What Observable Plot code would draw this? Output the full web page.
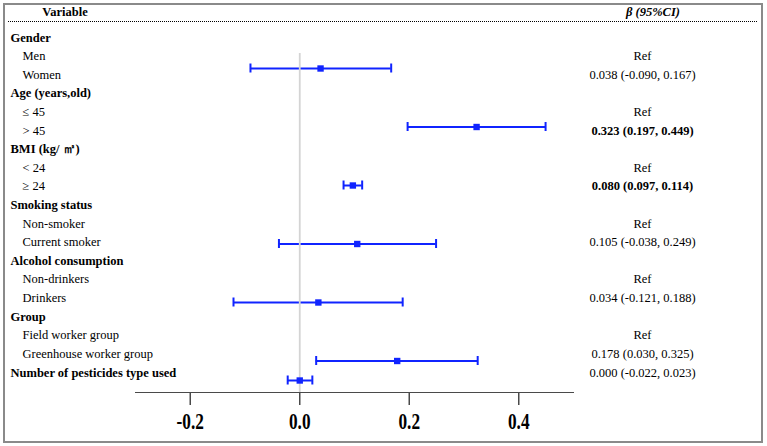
<!DOCTYPE html>
<html><head><meta charset="utf-8">
<script src="https://cdn.jsdelivr.net/npm/d3@7"></script>
<script src="https://cdn.jsdelivr.net/npm/@observablehq/plot@0.6"></script>
<style>
body{margin:0;background:#fff;}
#wrap{position:relative;width:767px;height:446px;overflow:hidden;font-family:"Liberation Serif","Times New Roman",serif;}
#border{position:absolute;left:3px;top:3px;width:760px;height:440px;border:2px solid #8a8a8a;box-sizing:border-box;}
#hdr{position:absolute;left:8px;top:4px;width:749px;height:17px;border-bottom:1.5px dotted #000;}
.h{position:absolute;top:1px;font-weight:bold;font-size:12.5px;transform:translateX(-50%);white-space:nowrap;color:#000;}
.layer{position:absolute;left:0;top:0;}
</style></head>
<body>
<div id="wrap">
  <div id="border"></div>
  <div id="hdr"><span class="h" style="left:57px">Variable</span><span class="h" style="left:645px;font-style:italic">β (95%CI)</span></div>
  <div class="layer" id="tbl"></div>
  <div class="layer" id="forest"></div>
</div>
<script>
// Table rows
const labels = ["Gender","Men","Women","Age (years,old)","≤ 45","> 45","BMI (kg/ ㎡)","< 24","≥ 24","Smoking status","Non-smoker","Current smoker","Alcohol consumption","Non-drinkers","Drinkers","Group","Field worker group","Greenhouse worker group","Number of pesticides type used"];
const isHeader = [1,0,0,1,0,0,1,0,0,1,0,0,1,0,0,1,0,0,1];
const ciText = ["","Ref","0.038 (-0.090, 0.167)","","Ref","0.323 (0.197, 0.449)","","Ref","0.080 (0.097, 0.114)","","Ref","0.105 (-0.038, 0.249)","","Ref","0.034 (-0.121, 0.188)","","Ref","0.178 (0.030, 0.325)","0.000 (-0.022, 0.023)"];
const ciBold = [0,0,0,0,0,1,0,0,1,0,0,0,0,0,0,0,0,0,0];

// Forest values (as plotted)
const estRows = ["Women","> 45","≥ 24","Current smoker","Drinkers","Greenhouse worker group","Number of pesticides type used"];
const est = [0.038,0.323,0.097,0.105,0.034,0.178,0.000];
const lo  = [-0.090,0.197,0.080,-0.038,-0.121,0.030,-0.022];
const hi  = [0.167,0.449,0.114,0.249,0.188,0.325,0.023];
const xTicks = [-0.2,0.0,0.2,0.4];

const rows = labels.map((l,i)=>({label:l, header:!!isHeader[i], ci:ciText[i], bold:!!ciBold[i]}));
const forest = estRows.map((r,i)=>({row:r, est:est[i], lo:lo[i], hi:hi[i]}));

const font = '"Liberation Serif","Times New Roman",serif';
const blue = "#1024ff";

const tbl = Plot.plot({
  width:767, height:446, marginTop:37, marginBottom:74, marginLeft:0, marginRight:0,
  y:{type:"point", domain:labels, range:[37,372], padding:0, round:false, axis:null},
  style:{background:"transparent", fontFamily:font, fontSize:"12.5px", color:"#000", overflow:"visible"},
  marks:[
    Plot.text(rows.filter(d=>d.header), {y:"label", text:"label", frameAnchor:"left", dx:10, textAnchor:"start", fontWeight:"bold", fill:"#000"}),
    Plot.text(rows.filter(d=>!d.header), {y:"label", text:"label", frameAnchor:"left", dx:22, textAnchor:"start", fill:"#000"}),
    Plot.text(rows.filter(d=>d.ci && !d.bold), {y:"label", text:"ci", frameAnchor:"left", dx:642, textAnchor:"middle", fill:"#000"}),
    Plot.text(rows.filter(d=>d.ci && d.bold), {y:"label", text:"ci", frameAnchor:"left", dx:642, textAnchor:"middle", fontWeight:"bold", fill:"#000"})
  ]
});
document.getElementById("tbl").appendChild(tbl);

const fp = Plot.plot({
  width:767, height:446, marginLeft:135, marginRight:194, marginTop:53, marginBottom:54,
  x:{domain:[-0.3,0.5], ticks:xTicks, tickFormat:d=>d.toFixed(1), tickSize:13, tickPadding:6, line:true, label:null},
  y:{type:"band", domain:labels, range:[19.25,389.75], padding:0, round:false, axis:null},
  style:{background:"transparent", fontFamily:font, fontSize:"24px", fontWeight:"bold", color:"#4a4a4a", overflow:"visible"},
  marks:[
    Plot.ruleY(forest, {y:"row", x1:"lo", x2:"hi", stroke:blue, strokeWidth:2}),
    Plot.tickX(forest, {x:"lo", y:"row", insetTop:5.25, insetBottom:5.25, stroke:blue, strokeWidth:2}),
    Plot.tickX(forest, {x:"hi", y:"row", insetTop:5.25, insetBottom:5.25, stroke:blue, strokeWidth:2}),
    Plot.ruleX([0], {stroke:"#d4d4d4", strokeWidth:1.8}),
    Plot.dot(forest, {x:"est", y:"row", symbol:"square", r:3.6, fill:blue, stroke:"none"})
  ]
});
// axis styling: thicker line/ticks, condensed black tick labels
fp.querySelectorAll('g[aria-label^="x-axis"] path, g[aria-label^="x-axis"] line').forEach(e=>e.setAttribute("stroke-width","1.5"));
fp.querySelectorAll('g[aria-label="x-axis tick label"] text').forEach(t=>{
  t.setAttribute("fill","#000");
  const tr = t.getAttribute("transform");
  if (tr && /translate/.test(tr)) t.setAttribute("transform", tr + " scale(0.72,1)");
  else {
    const cx = +t.getAttribute("x") || 0;
    t.setAttribute("transform", `translate(${cx},0) scale(0.72,1) translate(${-cx},0)`);
  }
});
document.getElementById("forest").appendChild(fp);
</script>
</body></html>
